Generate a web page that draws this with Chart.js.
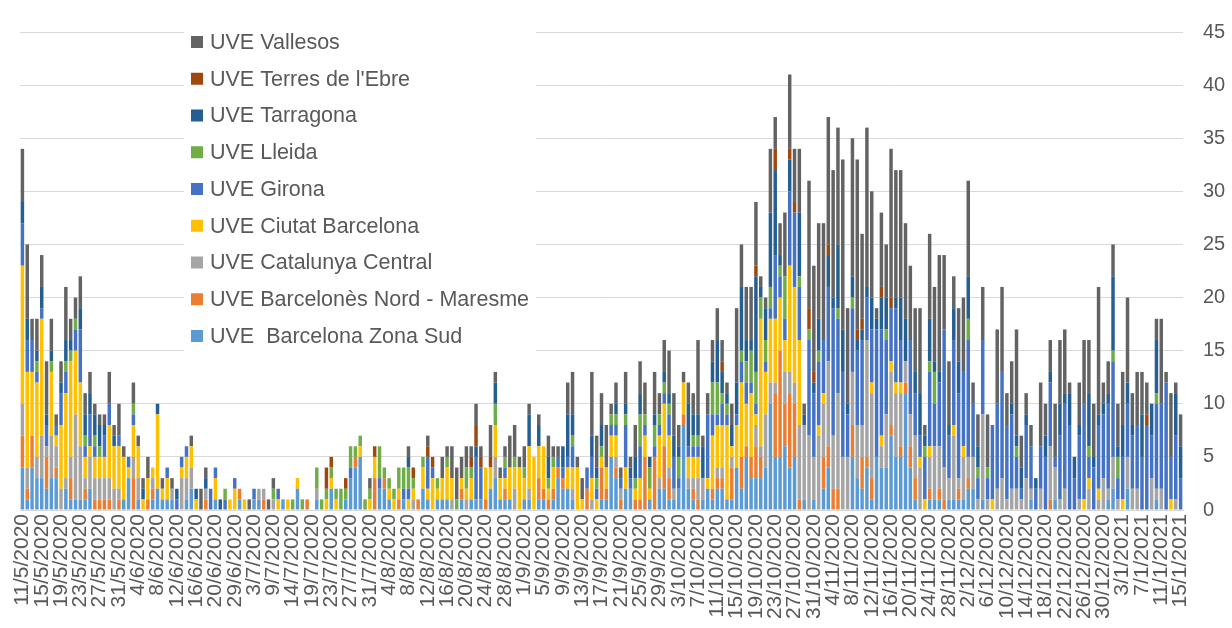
<!DOCTYPE html>
<html><head><meta charset="utf-8">
<script src="https://cdn.jsdelivr.net/npm/chart.js@4.4.1/dist/chart.umd.min.js"></script>
<style>html,body{margin:0;padding:0;background:#fff;}#wrap{width:1232px;height:628px;}</style>
</head><body><div id="wrap"><canvas id="c" width="1232" height="628"></canvas></div>
<script>
// ---- categories ----
const firstDate = [2020, 5, 11];
const lastDate = [2021, 1, 17];
const missingDates = ['21/6/2020','22/6/2020','24/6/2020','27/6/2020','28/6/2020','4/7/2020','5/7/2020','12/7/2020','17/7/2020'];
const labelEvery = 4;
const yTicks = [0,5,10,15,20,25,30,35,40,45];

// ---- series (cases per day) ----
const seriesNames = ['UVE  Barcelona Zona Sud','UVE Barcelonès Nord - Maresme','UVE Catalunya Central','UVE Ciutat Barcelona','UVE Girona','UVE Lleida','UVE Tarragona',"UVE Terres de l'Ebre",'UVE Vallesos'];
const seriesColors = ['#5B9BD5','#ED7D31','#A5A5A5','#FFC000','#4472C4','#70AD47','#255E91','#9E480E','#636363'];

const barcelonaZonaSud = [
4,1,4,3,3,2,3,3,0,2,1,1,1,1,2,0,0,0,0,0,
0,1,3,0,1,0,0,1,2,1,1,1,0,0,1,2,0,0,0,0,
1,0,0,0,0,1,0,0,1,1,0,0,0,0,1,0,0,2,0,
0,0,1,0,0,2,0,0,1,3,4,5,0,0,0,2,2,1,0,
0,1,0,0,0,2,1,0,1,1,1,0,0,1,0,1,1,1,0,2,
3,1,1,1,0,0,1,1,0,1,1,0,1,3,2,2,1,0,0,
0,0,0,1,1,5,3,0,2,2,0,0,0,1,0,2,2,1,1,2,
8,2,1,0,1,2,1,2,2,1,1,4,2,5,3,3,3,4,10,
5,5,6,4,5,0,1,0,1,0,2,4,0,0,0,0,5,3,2,4,
1,5,4,4,7,5,5,11,4,1,0,0,1,1,1,0,1,1,1,
1,2,2,0,1,0,0,0,0,0,0,0,0,0,1,0,0,0,0,1,
0,0,0,0,0,0,0,0,0,0,1,2,0,0,2,0,0,0,0,0,1,0,0,0,0,0];
const barcelonesNordMaresme = [
3,1,3,0,0,3,0,1,0,0,2,0,0,1,0,1,1,1,1,0,
1,0,0,3,0,0,1,1,0,0,0,0,0,0,0,0,0,0,1,0,
0,0,0,0,0,1,0,0,0,0,1,0,0,0,0,0,0,0,0,
1,0,0,0,0,0,0,0,0,0,1,0,0,0,3,0,1,0,0,
1,0,0,0,1,0,0,0,0,0,0,0,0,1,0,0,0,0,1,0,
0,0,1,0,0,0,0,0,0,2,1,1,1,1,1,0,0,0,0,
2,0,0,3,1,0,1,1,0,0,1,1,5,0,5,0,4,2,0,0,
1,0,1,1,0,0,1,1,1,0,3,0,3,1,2,3,2,0,0,
6,10,4,7,5,1,0,0,0,0,3,2,2,2,0,0,3,0,3,1,
2,0,0,0,1,0,1,1,2,2,0,0,1,0,1,1,0,0,1,
0,1,0,0,0,0,0,0,0,0,0,0,0,0,0,0,0,0,1,0,
0,0,0,0,0,0,0,0,0,0,0,0,0,0,0,0,0,0,0,0,0,0,0,0,0,0];
const catalunyaCentral = [
3,2,0,2,4,1,4,2,2,1,2,8,5,1,3,2,2,2,2,2,
1,0,0,2,2,0,0,1,0,0,0,1,0,3,2,2,0,0,1,0,
0,0,0,0,0,0,0,0,0,1,1,0,1,0,0,0,0,0,0,
0,0,1,0,0,0,0,0,0,0,0,0,0,0,0,0,0,0,0,
0,0,0,1,0,0,0,0,0,0,0,1,0,0,1,0,0,0,0,0,
2,0,0,0,2,0,0,1,0,0,0,0,0,0,0,0,1,0,0,
0,1,0,0,0,0,1,1,0,0,0,0,0,0,0,1,0,1,1,0,
0,1,1,2,2,0,0,1,1,0,1,0,0,0,0,2,1,5,2,
1,0,3,2,2,7,7,7,4,7,5,8,5,9,5,5,5,5,3,11,
8,0,2,5,5,6,5,2,3,4,4,0,3,5,4,3,2,6,1,
4,2,3,1,8,1,0,2,3,1,2,2,1,3,1,0,2,0,5,3,
1,2,0,0,1,0,2,0,1,3,1,3,1,0,3,2,2,0,0,3,1,2,0,0,1,0];
const ciutatBarcelona = [
13,9,6,7,11,0,6,1,6,8,9,6,6,2,1,2,2,2,5,4,
4,4,1,3,3,1,2,1,7,1,2,0,0,1,2,2,1,0,0,0,
2,0,0,1,2,0,1,0,0,0,0,0,0,1,0,1,0,1,0,
0,0,0,0,1,1,1,0,0,0,0,1,0,1,2,0,0,1,1,
1,0,1,1,0,2,1,3,1,2,3,2,0,1,1,2,0,0,3,2,
3,2,1,3,2,4,2,4,5,3,4,1,2,0,0,2,2,4,1,
0,2,1,1,2,2,2,0,2,0,1,2,2,1,0,4,4,3,0,0,
3,2,2,2,0,1,5,4,4,7,1,4,7,4,6,1,12,4,6,
6,5,3,10,9,8,0,0,0,1,1,0,0,0,0,0,0,0,0,0,
1,0,1,0,1,1,1,0,0,0,1,1,1,0,0,0,0,1,0,
1,0,0,0,0,0,1,0,0,0,0,0,0,0,0,0,0,0,0,0,
0,0,0,0,0,1,1,0,1,0,0,0,0,1,0,0,0,0,0,0,0,0,0,1,0,0];
const girona = [
4,3,3,1,1,2,0,1,3,2,0,2,5,1,3,1,0,2,2,0,
1,0,1,1,0,0,0,0,0,0,1,0,1,1,1,0,0,0,0,2,
1,0,1,0,1,0,0,0,1,0,0,0,0,1,0,0,0,0,0,
0,0,0,0,0,0,0,0,0,1,0,0,0,0,0,1,0,0,0,
0,1,1,0,0,0,3,1,0,0,0,0,0,0,0,0,4,3,0,0,
0,0,1,0,0,0,0,0,0,0,0,0,0,1,1,1,2,0,0,
2,2,1,0,0,1,1,1,4,1,0,3,1,0,1,1,1,2,3,1,
0,1,1,1,0,6,2,1,2,1,0,1,2,2,1,1,0,1,1,
6,2,2,7,7,5,0,9,6,6,5,7,12,7,8,4,6,7,8,4,
5,12,10,7,5,7,4,0,7,4,2,4,7,4,6,13,4,8,8,
7,11,5,2,7,2,7,8,10,7,7,3,1,5,4,2,4,5,6,1,
6,8,8,3,6,9,2,4,6,6,8,9,2,4,5,5,6,5,8,4,8,8,12,4,6,3];
const lleida = [
0,0,0,1,0,0,1,0,0,1,1,1,0,1,0,1,1,0,0,0,
0,0,0,1,0,0,0,0,0,0,0,0,0,0,0,0,0,0,0,0,
0,0,1,0,0,0,0,0,0,0,0,0,1,0,0,0,1,0,1,
0,0,2,1,1,1,1,2,1,2,1,1,1,1,0,3,1,1,1,
2,2,2,1,0,1,0,0,1,0,1,0,1,0,2,1,0,0,0,0,
2,0,1,0,1,0,1,0,0,0,0,1,1,0,0,0,1,0,0,
0,0,1,1,0,1,1,0,1,0,1,3,1,2,2,1,1,1,0,2,
0,0,1,1,0,0,3,3,1,1,0,0,1,2,3,3,2,2,2,
0,1,4,0,0,1,0,1,0,1,0,0,0,1,0,0,1,0,0,0,
0,0,0,1,0,0,0,0,0,0,0,1,1,3,0,0,0,0,0,
0,2,0,1,0,1,0,0,0,0,0,1,0,0,0,0,0,0,0,0,
0,0,0,0,0,0,1,0,0,0,0,1,2,0,0,0,0,0,0,0,1,0,0,0,0,0];
const tarragona = [
2,2,0,1,2,1,1,0,1,2,1,0,2,2,2,2,2,1,0,1,
0,0,0,0,0,1,0,0,1,0,0,0,1,0,0,0,1,0,1,0,
0,1,0,0,0,0,0,0,0,0,0,0,0,0,0,0,0,0,0,
0,0,0,0,0,0,0,0,0,0,0,0,0,0,0,0,0,0,0,
0,0,1,0,0,0,0,0,0,0,0,0,0,0,0,0,1,0,0,0,
2,0,0,0,0,0,0,3,0,2,0,2,0,0,2,4,2,0,0,
0,2,1,2,0,0,1,0,1,1,2,2,0,1,1,0,1,1,2,1,
0,4,2,2,3,0,2,4,2,1,2,3,6,2,1,9,1,3,7,
8,1,0,3,0,6,1,0,1,3,0,3,1,6,4,1,2,1,1,1,
3,1,3,3,0,1,4,4,0,2,4,1,4,1,1,0,1,3,3,
0,4,0,2,0,0,0,0,0,0,1,1,2,1,0,1,0,2,1,0,
3,1,3,2,1,0,5,1,1,1,1,7,1,3,2,1,0,4,0,3,5,0,0,0,4,3];
const terresEbre = [
0,0,0,0,0,0,0,0,0,0,0,0,0,0,0,0,0,0,0,0,
0,0,0,0,0,0,0,0,0,0,0,0,0,0,0,0,0,0,0,0,
0,0,0,0,0,0,0,0,0,0,0,0,0,0,0,0,0,0,0,
0,0,0,0,2,1,0,0,1,0,0,0,0,0,1,0,0,0,0,
0,0,0,1,0,0,1,1,0,0,0,0,0,0,0,1,2,1,0,1,
0,0,0,0,0,0,0,0,0,0,0,0,0,0,0,0,0,0,0,
0,0,0,0,0,0,0,0,0,0,0,0,0,0,0,0,0,0,0,0,
0,0,0,0,0,0,0,0,1,0,0,0,0,0,0,1,0,0,0,
2,0,0,1,1,0,0,2,1,0,0,1,0,0,0,0,0,1,1,0,
0,0,1,0,1,0,0,0,0,0,0,0,0,0,0,0,0,0,0,
0,0,0,0,0,0,0,0,0,0,0,0,0,0,0,0,0,0,0,0,
0,0,0,0,0,0,0,0,0,0,0,0,0,0,0,0,0,0,1,0,0,0,0,0,0,0];
const vallesos = [
5,7,2,3,3,5,3,1,2,5,2,2,3,2,2,1,1,1,3,1,
3,1,0,2,1,1,2,0,0,1,0,1,0,0,0,1,0,2,1,0,
0,0,0,0,0,0,0,1,0,0,0,1,1,0,0,0,0,0,0,
0,0,0,0,0,0,0,0,0,0,0,0,0,1,0,0,0,0,0,
0,0,1,0,0,0,1,0,0,2,1,3,3,2,2,1,2,1,0,3,
1,1,1,3,3,1,2,1,0,1,0,2,1,1,0,3,4,1,2,
0,6,3,3,4,1,2,1,3,1,3,3,3,0,4,2,3,4,4,2,
1,2,2,7,1,2,2,3,2,1,2,7,4,5,5,6,1,1,6,
3,3,6,7,5,6,1,12,10,9,11,12,12,11,16,9,13,16,8,15,
10,1,7,5,14,12,12,9,7,6,8,1,8,7,11,7,6,3,5,
7,9,2,3,5,5,0,7,8,3,4,10,3,2,2,0,6,3,3,5,
6,6,1,0,4,6,5,5,12,2,3,3,4,5,8,3,5,4,3,0,2,8,1,6,1,3];

const seriesValues = [barcelonaZonaSud, barcelonesNordMaresme, catalunyaCentral, ciutatBarcelona, girona, lleida, tarragona, terresEbre, vallesos];

// build the date categories (days without a report are skipped)
const categories = [];
(function(){
  const d = new Date(firstDate[0], firstDate[1]-1, firstDate[2]);
  const end = new Date(lastDate[0], lastDate[1]-1, lastDate[2]);
  while (d <= end) {
    const s = d.getDate() + '/' + (d.getMonth()+1) + '/' + d.getFullYear();
    if (!missingDates.includes(s)) categories.push(s);
    d.setDate(d.getDate()+1);
  }
})();
const n = Math.min(categories.length, barcelonaZonaSud.length);
const labels = categories.slice(0, n);

const FONT = '"Liberation Sans", Arial, sans-serif';
const TEXT = '#595959';

const insideLegend = {
  id: 'insideLegend',
  afterDraw(chart) {
    const ctx = chart.ctx;
    ctx.save();
    ctx.fillStyle = '#ffffff';
    ctx.fillRect(184, 32, 352, 320);
    ctx.font = '21.5px ' + FONT;
    ctx.textBaseline = 'middle';
    ctx.textAlign = 'left';
    const ds = chart.data.datasets;
    let row = 0;
    for (let k = ds.length - 1; k >= 0; k--, row++) {
      const y = 42 + row * 36.75;
      ctx.fillStyle = ds[k].backgroundColor;
      ctx.fillRect(191, y - 6, 12, 12);
      ctx.fillStyle = TEXT;
      ctx.fillText(ds[k].label, 210, y + 1);
    }
    ctx.restore();
  }
};

new Chart(document.getElementById('c'), {
  type: 'bar',
  data: {
    labels: labels,
    datasets: seriesNames.map((name, k) => ({
      label: name,
      data: seriesValues[k].slice(0, n),
      backgroundColor: seriesColors[k],
      borderWidth: 0,
      categoryPercentage: 0.72,
      barPercentage: 1.0
    }))
  },
  options: {
    responsive: false,
    animation: false,
    devicePixelRatio: 1,
    layout: { padding: { left: 20, top: 30, right: 0, bottom: 0 } },
    plugins: { legend: { display: false }, tooltip: { enabled: false } },
    scales: {
      x: {
        stacked: true,
        grid: { display: false, drawTicks: false },
        border: { display: true, color: '#d9d9d9', width: 1 },
        ticks: {
          autoSkip: false, maxRotation: 90, minRotation: 90,
          color: TEXT, font: { family: FONT, size: 21 }, padding: 4
        },
        afterBuildTicks: s => { s.ticks = s.ticks.filter(t => t.value % labelEvery === 0); },
        afterFit: s => { s.height = 118; }
      },
      y: {
        stacked: true,
        position: 'right',
        min: yTicks[0], max: yTicks[yTicks.length-1],
        afterBuildTicks: s => { s.ticks = yTicks.map(v => ({ value: v })); },
        grid: { color: '#d9d9d9', lineWidth: 1, drawTicks: false },
        border: { display: false },
        ticks: { color: TEXT, font: { family: FONT, size: 20 }, padding: 20 },
        afterFit: s => { s.width = 49; }
      }
    }
  },
  plugins: [insideLegend]
});
</script></body></html>
